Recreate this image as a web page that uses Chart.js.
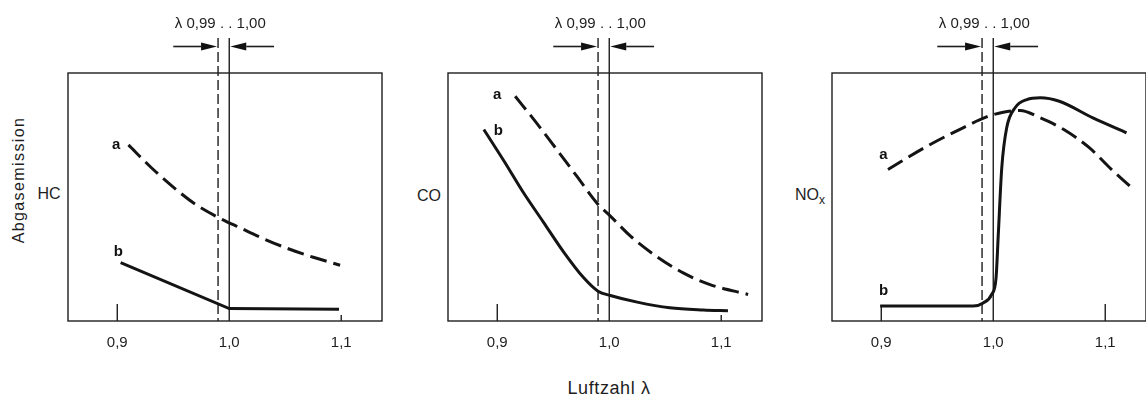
<!DOCTYPE html>
<html>
<head>
<meta charset="utf-8">
<script src="https://cdn.jsdelivr.net/npm/chart.js@4.4.0/dist/chart.umd.min.js"></script>
<style>
  html, body { margin: 0; padding: 0; background: #fff; }
  body { width: 1146px; height: 399px; position: relative; overflow: hidden;
         font-family: "Liberation Sans", Arial, sans-serif; color: #1e1e1e; }
  canvas { position: absolute; top: 0; }
  .lbl { position: absolute; transform: translate(-50%, -50%); white-space: nowrap; }
</style>
</head>
<body>
<div class="lbl" style="left:19px;top:180px;transform:translate(-50%,-50%) rotate(-90deg);font-size:16px;letter-spacing:1.4px;">Abgasemission</div>
<div class="lbl" style="left:49px;top:194px;font-size:16px;">HC</div>
<div class="lbl" style="left:429px;top:196px;font-size:16px;">CO</div>
<div class="lbl" style="left:810px;top:195px;font-size:16px;">NO<span style="font-size:12px;position:relative;top:4px;">x</span></div>
<div class="lbl" style="left:609px;top:388px;font-size:18px;letter-spacing:0.6px;">Luftzahl λ</div>
<canvas id="pHC"></canvas>
<canvas id="pCO"></canvas>
<canvas id="pNOx"></canvas>
<script>
// Lambda axis ticks and the lambda window 0,99 .. 1,00
const LAMBDA_TICKS = [0.9, 1.0, 1.1];
const LAMBDA_WINDOW = [0.99, 1.00];

// HC: a = without catalyst (dashed), b = with catalyst (solid)
const hcA_x = [0.910, 0.930, 0.950, 0.970, 0.990, 1.010, 1.030, 1.050, 1.075, 1.099];
const hcA_y = [71.0, 62.0, 54.0, 47.0, 41.8, 37.5, 33.3, 29.6, 25.7, 22.5];
const hcB_x = [0.903, 1.000, 1.098];
const hcB_y = [23.5, 5.0, 4.7];

// CO
const coA_x = [0.916, 0.935, 0.953, 0.971, 0.990, 1.001, 1.019, 1.042, 1.066, 1.090, 1.124];
const coA_y = [90.6, 79.9, 69.2, 58.4, 47.0, 42.3, 34.2, 26.1, 19.4, 14.7, 10.7];
const coB_x = [0.888, 0.906, 0.923, 0.941, 0.959, 0.977, 0.990, 1.001, 1.025, 1.054, 1.084, 1.106];
const coB_y = [77.2, 64.5, 52.0, 40.0, 28.0, 17.5, 12.0, 10.3, 7.6, 5.3, 4.4, 4.1];

// NOx
const noxA_x = [0.906, 0.941, 0.973, 0.994, 1.009, 1.024, 1.042, 1.063, 1.086, 1.104, 1.122];
const noxA_y = [61.1, 70.5, 77.9, 82.3, 84.2, 84.9, 81.9, 77.2, 69.8, 61.8, 54.4];
const noxB_x = [0.899, 0.982, 0.991, 0.9986, 1.0025, 1.0045, 1.0076, 1.012, 1.0195, 1.030, 1.042, 1.059, 1.089, 1.119];
const noxB_y = [6.0, 6.0, 7.3, 10.7, 17.4, 34.9, 61.8, 77.9, 86.0, 89.3, 90.0, 88.6, 81.9, 75.9];

const X_MIN = 0.856, X_MAX = 1.1364;
const INK = '#141414';

const panels = [
  { id: 'pHC',  boxLeft: 68,  a: [hcA_x, hcA_y],   b: [hcB_x, hcB_y],   bStraight: true,
    labelA: [0.899, 71.2], labelB: [0.901, 28.0], tickLen: [17, 6] },
  { id: 'pCO',  boxLeft: 448, a: [coA_x, coA_y],   b: [coB_x, coB_y],   bStraight: false,
    labelA: [0.900, 91.0], labelB: [0.901, 76.5], tickLen: [17, 6] },
  { id: 'pNOx', boxLeft: 832, a: [noxA_x, noxA_y], b: [noxB_x, noxB_y], bStraight: false,
    labelA: [0.902, 67.1], labelB: [0.902, 12.0], tickLen: [16, 17] }
];

const fmt = (v, d) => v.toFixed(d).replace('.', ',');
const pts = (xs, ys) => xs.map((x, i) => ({ x: x, y: ys[i] }));

function arrow(ctx, fromX, toX, y) {
  const dir = Math.sign(toX - fromX);
  const headLen = 16, headHalf = 4;
  ctx.beginPath();
  ctx.moveTo(fromX, y);
  ctx.lineTo(toX - dir * headLen, y);
  ctx.stroke();
  ctx.beginPath();
  ctx.moveTo(toX, y);
  ctx.lineTo(toX - dir * headLen, y - headHalf);
  ctx.lineTo(toX - dir * headLen, y + headHalf);
  ctx.closePath();
  ctx.fill();
}

// Frame, lambda window markers, inner ticks and curve letters
const decor = {
  id: 'decor',
  beforeDatasetsDraw(chart, args, opts) {
    const { ctx, chartArea: { left, right, top, bottom }, scales: { x } } = chart;
    ctx.save();
    ctx.strokeStyle = '#1e1e1e';
    ctx.fillStyle = '#111';
    ctx.lineWidth = 1.4;
    ctx.strokeRect(left, top, right - left, bottom - top);

    const x0 = x.getPixelForValue(LAMBDA_WINDOW[0]);
    const x1 = x.getPixelForValue(LAMBDA_WINDOW[1]);
    ctx.setLineDash([10, 4]);
    ctx.beginPath(); ctx.moveTo(x0, 38); ctx.lineTo(x0, bottom); ctx.stroke();
    ctx.setLineDash([]);
    ctx.beginPath(); ctx.moveTo(x1, 38); ctx.lineTo(x1, bottom); ctx.stroke();

    // ticks pointing into the plot
    LAMBDA_TICKS.forEach((v, i) => {
      const len = opts.tickLen[i === 0 ? 0 : 1];
      if (v === 1.0) return;
      const px = x.getPixelForValue(v);
      ctx.beginPath(); ctx.moveTo(px, bottom); ctx.lineTo(px, bottom - len); ctx.stroke();
    });

    // arrows closing in on the window
    ctx.lineWidth = 1.6;
    arrow(ctx, x.getPixelForValue(0.95), x0 - 1, 46.5);
    arrow(ctx, x.getPixelForValue(1.04), x1 + 1, 46.5);

    ctx.fillStyle = '#1e1e1e';
    ctx.font = '15px "Liberation Sans", Arial, sans-serif';
    ctx.textAlign = 'center';
    ctx.textBaseline = 'middle';
    ctx.fillText('λ ' + fmt(LAMBDA_WINDOW[0], 2) + ' . . ' + fmt(LAMBDA_WINDOW[1], 2),
                 x.getPixelForValue(0.992), 24);
    ctx.restore();
  },
  afterDatasetsDraw(chart, args, opts) {
    const { ctx, scales: { x, y } } = chart;
    ctx.save();
    ctx.fillStyle = '#111';
    ctx.font = 'bold 15px "Liberation Sans", Arial, sans-serif';
    ctx.textAlign = 'center';
    ctx.textBaseline = 'middle';
    ctx.fillText('a', x.getPixelForValue(opts.labelA[0]), y.getPixelForValue(opts.labelA[1]));
    ctx.fillText('b', x.getPixelForValue(opts.labelB[0]), y.getPixelForValue(opts.labelB[1]));
    ctx.restore();
  }
};

panels.forEach(p => {
  const cv = document.getElementById(p.id);
  const margin = 8, boxW = 314;
  cv.width = boxW + 2 * margin;
  cv.height = 399;
  cv.style.left = (p.boxLeft - margin) + 'px';
  cv.style.width = cv.width + 'px';
  cv.style.height = cv.height + 'px';

  new Chart(cv, {
    type: 'line',
    data: {
      datasets: [
        { label: 'a', data: pts(p.a[0], p.a[1]), borderColor: INK, borderWidth: 3,
          borderDash: [17, 7], pointRadius: 0, fill: false, cubicInterpolationMode: 'monotone' },
        { label: 'b', data: pts(p.b[0], p.b[1]), borderColor: INK, borderWidth: 3,
          pointRadius: 0, fill: false,
          cubicInterpolationMode: p.bStraight ? 'default' : 'monotone', tension: 0 }
      ]
    },
    options: {
      responsive: false,
      animation: false,
      devicePixelRatio: 1,
      layout: { padding: { left: margin, right: margin, top: 73, bottom: 38 } },
      plugins: {
        legend: { display: false },
        tooltip: { enabled: false },
        decor: { tickLen: p.tickLen, labelA: p.labelA, labelB: p.labelB }
      },
      scales: {
        x: {
          type: 'linear', min: X_MIN, max: X_MAX,
          grid: { display: false, drawTicks: false },
          border: { display: false },
          afterBuildTicks: s => { s.ticks = LAMBDA_TICKS.map(v => ({ value: v })); },
          afterFit: s => { s.height = 40; },
          ticks: {
            padding: 13, color: '#1e1e1e',
            font: { family: '"Liberation Sans", Arial, sans-serif', size: 15 },
            callback: v => fmt(v, 1)
          }
        },
        y: { type: 'linear', min: 0, max: 100, display: false }
      }
    },
    plugins: [decor]
  });
});
</script>
</body>
</html>
